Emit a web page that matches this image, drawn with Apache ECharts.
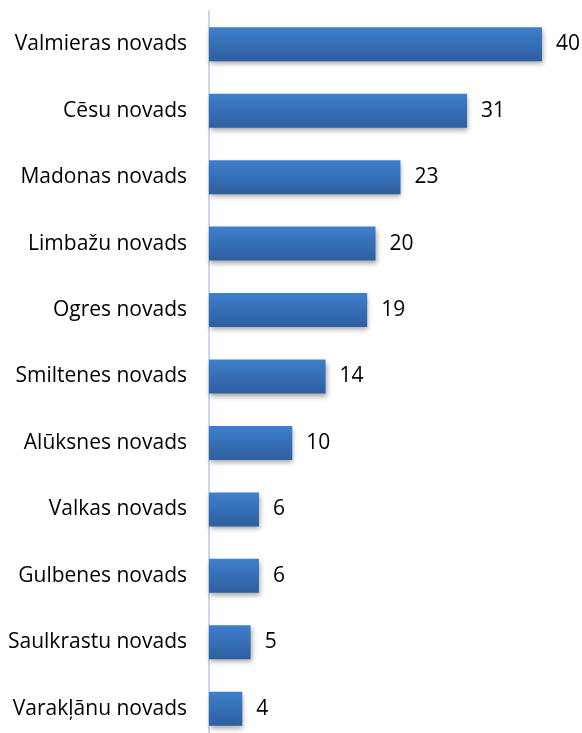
<!DOCTYPE html>
<html><head><meta charset="utf-8">
<script src="https://cdn.jsdelivr.net/npm/echarts@6/dist/echarts.min.js"></script>
<style>html,body{margin:0;padding:0;background:#fff;overflow:hidden}#c{width:582px;height:760px}</style>
</head><body><div id="c"></div>
<script>
const categories = ["Valmieras novads","Cēsu novads","Madonas novads","Limbažu novads","Ogres novads","Smiltenes novads","Alūksnes novads","Valkas novads","Gulbenes novads","Saulkrastu novads","Varakļānu novads"];
const values = [40,31,23,20,19,14,10,6,6,5,4];

const chart = echarts.init(document.getElementById('c'));
chart.setOption({
  animation:false,
  grid:{left:209, top:11, width:333, height:731, containLabel:false},
  xAxis:{type:'value', min:0, max:40, show:false},
  yAxis:{type:'category', data:categories, inverse:true,
    axisLine:{show:true, lineStyle:{color:'#c8d8ee', width:2}},
    axisTick:{show:false},
    axisLabel:{margin:22, color:'#000', fontSize:21, fontFamily:'Open Sans'}},
  series:[{type:'bar', data:values, barWidth:34,
    itemStyle:{
      color:new echarts.graphic.LinearGradient(0,0,0,1,[{offset:0,color:'#3e7fcd'},{offset:1,color:'#2e5e9f'}]),
      shadowColor:'rgba(0,0,0,0.35)', shadowBlur:5, shadowOffsetY:3, shadowOffsetX:1},
    label:{show:true, position:'right', distance:14, color:'#000', fontSize:21, fontFamily:'Open Sans'}
  }]
});
</script></body></html>
